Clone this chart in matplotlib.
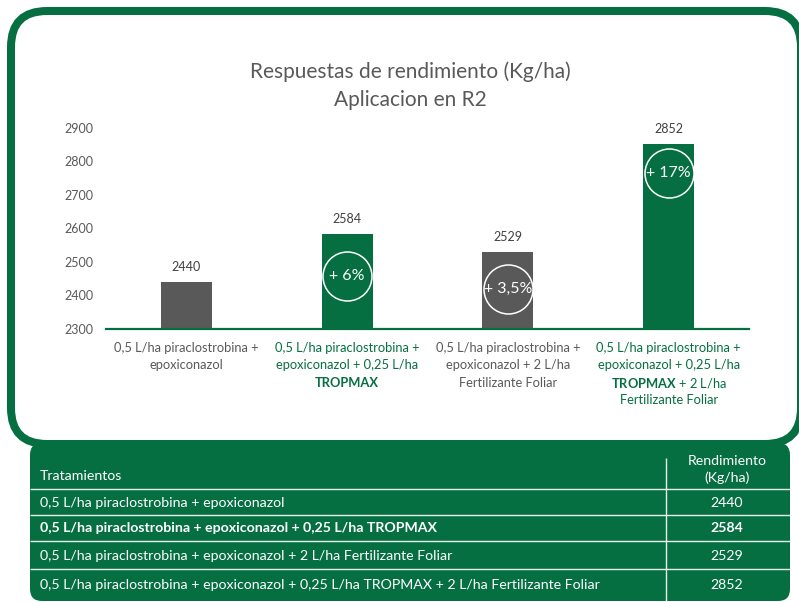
import matplotlib
matplotlib.use("Agg")
import matplotlib.pyplot as plt
from matplotlib.patches import FancyBboxPatch
from matplotlib.transforms import offset_copy

plt.rcParams["font.family"] = ["Lato", "DejaVu Sans"]
plt.rcParams["mathtext.fontset"] = "custom"
plt.rcParams["mathtext.rm"] = "Lato"
plt.rcParams["mathtext.bf"] = "Lato:bold"

GREEN = "#056f41"
BAR_GRAY = "#595959"
TEXT_GRAY = "#595959"
LABEL_DARK = "#404040"

# --- data -------------------------------------------------------------
title_lines = ["Respuestas de rendimiento (Kg/ha)", "Aplicacion en R2"]
yields = [2440, 2584, 2529, 2852]
increments = [None, "+ 6%", "+ 3,5%", "+ 17%"]
yticks = [2300, 2400, 2500, 2600, 2700, 2800, 2900]
axis_labels = [
    ["0,5 L/ha piraclostrobina +", "epoxiconazol"],
    ["0,5 L/ha piraclostrobina +", "epoxiconazol + 0,25 L/ha", "TROPMAX"],
    ["0,5 L/ha piraclostrobina +", "epoxiconazol + 2 L/ha", "Fertilizante Foliar"],
    ["0,5 L/ha piraclostrobina +", "epoxiconazol + 0,25 L/ha",
     r"$\mathbf{TROPMAX}$ + 2 L/ha", "Fertilizante Foliar"],
]
treatments = [
    "0,5 L/ha piraclostrobina + epoxiconazol",
    "0,5 L/ha piraclostrobina + epoxiconazol + 0,25 L/ha TROPMAX",
    "0,5 L/ha piraclostrobina + epoxiconazol + 2 L/ha Fertilizante Foliar",
    "0,5 L/ha piraclostrobina + epoxiconazol + 0,25 L/ha TROPMAX + 2 L/ha Fertilizante Foliar",
]
table_header = ["Tratamientos", "Rendimiento", "(Kg/ha)"]

# --- styling ----------------------------------------------------------
bar_colors = [BAR_GRAY, GREEN, BAR_GRAY, GREEN]
label_colors = [TEXT_GRAY, GREEN, TEXT_GRAY, GREEN]
bold_lines = {(1, 2)}
badge_drop = [0, 42, 37, 29]  # px below bar top
row_y = [503, 528, 556, 585]
TABLE_FS = 10.2

W, H = 799, 602
fig = plt.figure(figsize=(W / 100, H / 100), dpi=100)
fig.patch.set_facecolor("white")

# background canvas in pixel units
bg = fig.add_axes([0, 0, 1, 1], zorder=0)
bg.set_xlim(0, W)
bg.set_ylim(H, 0)
bg.axis("off")

panel = FancyBboxPatch((11, 11), 790, 433, boxstyle="round,pad=0,rounding_size=36",
                       fc="white", ec=GREEN, lw=8 * 0.72)
bg.add_patch(panel)
table = FancyBboxPatch((30, 443), 760, 158, boxstyle="round,pad=0,rounding_size=12",
                       fc=GREEN, ec="none")
bg.add_patch(table)
bg.hlines([489, 515, 541, 569], 30, 790, colors="#e8f0eb", lw=1)
bg.vlines(666, 458, 601, colors="#e8f0eb", lw=1)

bg.text(40, 476, table_header[0], color="white", fontsize=TABLE_FS, va="center")
bg.text(727, 461, table_header[1], color="white", fontsize=TABLE_FS, va="center", ha="center")
bg.text(727, 478, table_header[2], color="white", fontsize=TABLE_FS, va="center", ha="center")
for i, (name, val) in enumerate(zip(treatments, yields)):
    weight = "bold" if i == 1 else "normal"
    bg.text(40, row_y[i], name, color="white", fontsize=TABLE_FS, va="center", fontweight=weight)
    bg.text(727, row_y[i], str(val), color="white", fontsize=TABLE_FS, va="center",
            ha="center", fontweight=weight)

# title
fig.text(410 / W, 1 - 72 / H, title_lines[0], color=TEXT_GRAY, fontsize=15,
         ha="center", va="center")
fig.text(410 / W, 1 - 100 / H, title_lines[1], color=TEXT_GRAY, fontsize=15,
         ha="center", va="center")

# chart
ax = fig.add_axes([106 / W, 1 - 329 / H, 643 / W, 201 / H], zorder=2)
ax.patch.set_alpha(0)
x = list(range(len(yields)))
ax.bar(x, yields, width=0.317, color=bar_colors, zorder=2)
ax.set_xlim(-0.5, len(yields) - 0.5)
ax.set_ylim(yticks[0], yticks[-1])
ax.set_yticks(yticks)
ax.set_xticks([])
ax.tick_params(axis="y", length=0, pad=9, labelsize=9, labelcolor=TEXT_GRAY)
for side in ("top", "right", "left"):
    ax.spines[side].set_visible(False)
ax.spines["bottom"].set_color(GREEN)
ax.spines["bottom"].set_linewidth(1.6)
ax.spines["bottom"].set_zorder(3)

for i, v in enumerate(yields):
    ax.annotate(str(v), (i, v), xytext=(0, 15), textcoords="offset pixels",
                ha="center", va="center", color=LABEL_DARK, fontsize=9,
                annotation_clip=False)
    if increments[i]:
        tr = offset_copy(ax.transData, fig=fig, x=0, y=-badge_drop[i], units="dots")
        ax.plot(i, v, "o", ms=49 * 0.72, mfc="none", mec="white", mew=1.1,
                transform=tr, clip_on=False, zorder=4)
        ax.text(i, v, increments[i], transform=tr, ha="center", va="center",
                color="white", fontsize=11.5, zorder=5)
    for k, line in enumerate(axis_labels[i]):
        ax.annotate(line, (i, yticks[0]), xytext=(0, -(19 + 17.3 * k)),
                    textcoords="offset pixels", ha="center", va="center",
                    color=label_colors[i], fontsize=9.3,
                    fontweight="bold" if (i, k) in bold_lines else "normal",
                    annotation_clip=False)

fig.savefig("out.png", dpi=100, facecolor="white")
